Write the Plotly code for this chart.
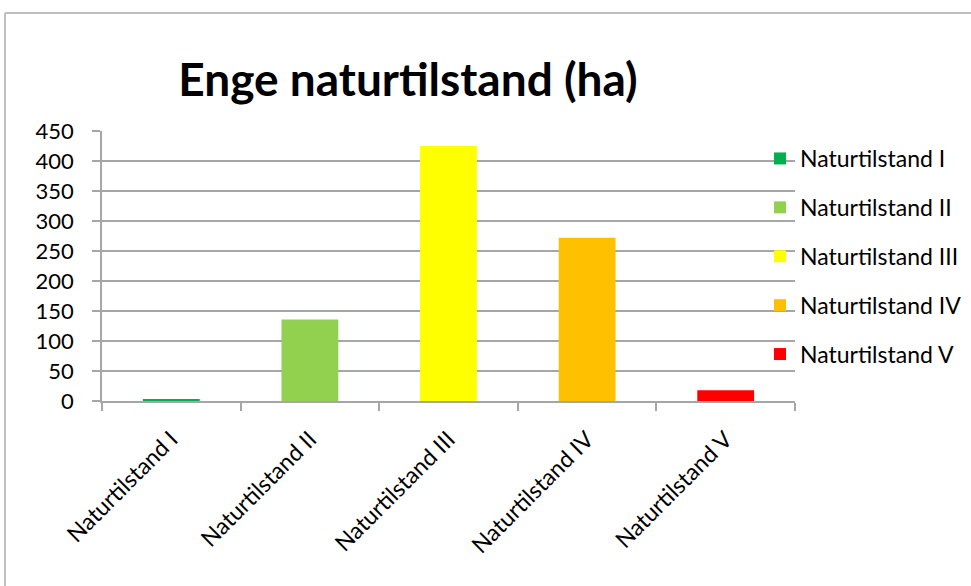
import plotly.graph_objects as go

categories = ["Naturtilstand I", "Naturtilstand II", "Naturtilstand III", "Naturtilstand IV", "Naturtilstand V"]
values = [3, 136, 425, 272, 18]
colors = ["#00B050", "#92D050", "#FFFF00", "#FFC000", "#FF0000"]
y_ticks = [0, 50, 100, 150, 200, 250, 300, 350, 400, 450]

W, H = 971, 586
L, R, T, B = 102, 176, 131, 185

fig = go.Figure()
for i, (c, v, col) in enumerate(zip(categories, values, colors)):
    fig.add_trace(go.Bar(x=[c], y=[v], name=c, marker=dict(color=col, line=dict(width=0)),
                         legendgroup=f"g{i}", width=0.41))

pw = W - L - R
ph = H - T - B
def px(x):
    return (x - L) / pw
def py(y):
    return (H - B - y) / ph

fig.update_layout(
    width=W, height=H,
    margin=dict(l=L, r=R, t=T, b=B, autoexpand=False),
    paper_bgcolor="white", plot_bgcolor="white",
    barmode="overlay",
    font=dict(family="Lato, Open Sans, sans-serif", color="#000000"),
    title=dict(text="<b>Enge naturtilstand (ha)</b>", font=dict(size=46, color="#000000", family="Lato, Open Sans, sans-serif"),
               xref="container", x=408 / W, xanchor="center",
               yref="container", y=1 - 80 / H, yanchor="middle"),
    showlegend=True,
    legend=dict(x=px(760), xanchor="left", y=py(137), yanchor="top",
                font=dict(size=23, color="#000000"), tracegroupgap=16,
                bgcolor="rgba(0,0,0,0)", itemsizing="constant"),
    xaxis=dict(categoryorder="array", categoryarray=categories,
               showline=True, linecolor="#A6A6A6", linewidth=1.5,
               ticks="outside", tickson="boundaries", ticklen=8, tickcolor="#A6A6A6", tickwidth=1.5,
               tickangle=-45, tickfont=dict(size=23, color="#000000"), showgrid=False,
               ticklabelstandoff=14, automargin=False),
    yaxis=dict(range=[0, 450], tickvals=y_ticks, ticktext=[str(t) for t in y_ticks],
               showline=True, linecolor="#A6A6A6", linewidth=1.5,
               showgrid=True, gridcolor="#A6A6A6", gridwidth=1.5,
               ticks="outside", ticklen=8, tickcolor="#A6A6A6", tickwidth=1.5,
               tickfont=dict(size=22, color="#000000"), zeroline=False,
               ticklabelstandoff=14, automargin=False),
    shapes=[
        dict(type="line", xref="paper", yref="paper", x0=px(5), x1=px(1000), y0=py(13), y1=py(13),
             line=dict(color="#BFBFBF", width=2)),
        dict(type="line", xref="paper", yref="paper", x0=px(5), x1=px(5), y0=py(13), y1=py(600),
             line=dict(color="#BFBFBF", width=2)),
    ],
)

fig.write_html("out.html")
